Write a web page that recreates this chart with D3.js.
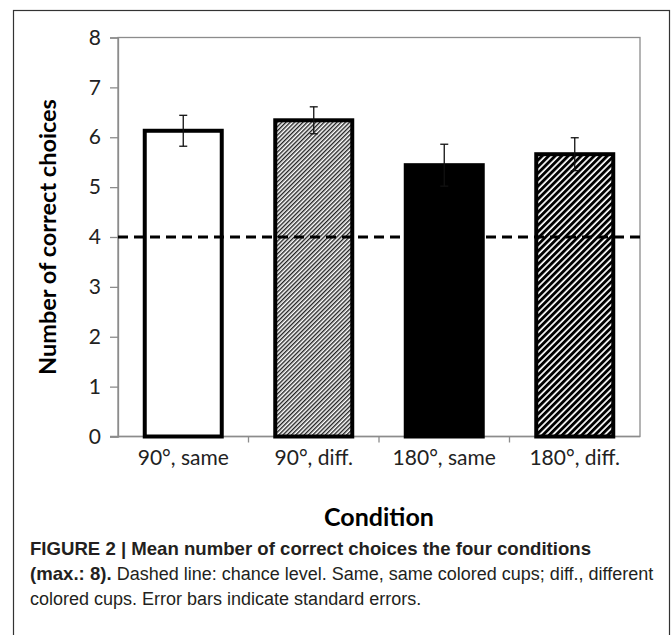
<!DOCTYPE html>
<html>
<head>
<meta charset="utf-8">
<script src="https://cdn.jsdelivr.net/npm/d3@7"></script>
<style>
	body { margin: 0; background: #fff; }
	svg { display: block; }
</style>
</head>
<body>
<script>
// data
const conditions = ["90°, same", "90°, diff.", "180°, same", "180°, diff."];
const means = [6.13, 6.34, 5.44, 5.66];
const stdErrors = [0.31, 0.27, 0.42, 0.33];
const chanceLevel = 4;
const yTicks = [0, 1, 2, 3, 4, 5, 6, 7, 8];
const captionLines = [
	[{ t: "FIGURE 2 | Mean number of correct choices the four conditions", b: true }],
	[{ t: "(max.: 8).", b: true }, { t: " Dashed line: chance level. Same, same colored cups; diff., different", b: false }],
	[{ t: "colored cups. Error bars indicate standard errors.", b: false }]
];

const svgWidth = 672;
const svgHeight = 635;
const plot = { left: 118, right: 640, top: 37.5, bottom: 436.5 };
const fills = ["#fff", "url(#fineHatch)", "#000", "url(#boldHatch)"];

const svg = d3
	.select("body")
	.append("svg")
	.attr("width", svgWidth)
	.attr("height", svgHeight);

// patterns
const defs = svg.append("defs");
const fine = defs
	.append("pattern")
	.attr("id", "fineHatch")
	.attr("patternUnits", "userSpaceOnUse")
	.attr("width", 3)
	.attr("height", 3)
	.attr("patternTransform", "rotate(45)");
fine.append("rect").attr("width", 3).attr("height", 3).attr("fill", "#fff");
fine.append("rect").attr("width", 1.4).attr("height", 3).attr("fill", "#222");

const bold = defs
	.append("pattern")
	.attr("id", "boldHatch")
	.attr("patternUnits", "userSpaceOnUse")
	.attr("width", 4.6)
	.attr("height", 4.6)
	.attr("patternTransform", "rotate(45)");
bold.append("rect").attr("width", 4.6).attr("height", 4.6).attr("fill", "#fff");
bold.append("rect").attr("width", 2.9).attr("height", 4.6).attr("fill", "#000");

// outer frame
svg
	.append("rect")
	.attr("x", 13.5)
	.attr("y", 10.5)
	.attr("width", 656)
	.attr("height", 640)
	.attr("fill", "none")
	.attr("stroke", "#333")
	.attr("stroke-width", 1.2);

//scale
const xScale = d3
	.scaleBand()
	.domain(conditions)
	.range([plot.left, plot.right])
	.paddingInner(0.41)
	.paddingOuter(0.205);

const yScale = d3
	.scaleLinear()
	.domain([0, 8])
	.range([plot.bottom, plot.top]);

//=====
//plot area frame
//=====
svg
	.append("rect")
	.attr("x", plot.left)
	.attr("y", plot.top)
	.attr("width", plot.right - plot.left)
	.attr("height", plot.bottom - plot.top)
	.attr("fill", "none")
	.attr("stroke", "#8c8c8c")
	.attr("stroke-width", 1.3);

//y-axis
const yAxis = svg
	.append("g")
	.attr("transform", `translate(${plot.left}, 0)`)
	.call(d3.axisLeft(yScale).tickValues(yTicks).tickSize(8).tickPadding(9).tickFormat(d3.format("d")));
yAxis.select(".domain").attr("stroke", "#8c8c8c").attr("stroke-width", 1.3);
yAxis.selectAll(".tick line").attr("stroke", "#8c8c8c").attr("stroke-width", 1.3);
yAxis
	.selectAll(".tick text")
	.attr("fill", "#222")
	.style("font-family", "Lato, 'Open Sans', sans-serif")
	.style("font-size", "21px");

//x-axis
const boundaries = conditions.slice(1).map((c) => xScale(c) - (xScale.step() - xScale.bandwidth()) / 2);
const xAxis = svg
	.append("g")
	.attr("transform", `translate(0, ${plot.bottom})`)
	.call(d3.axisBottom(xScale).tickSize(0).tickPadding(14));
xAxis.select(".domain").remove();
xAxis
	.append("line")
	.attr("x1", plot.left - 8)
	.attr("x2", plot.right)
	.attr("stroke", "#8c8c8c")
	.attr("stroke-width", 1.3);
xAxis
	.selectAll(".sep")
	.data(boundaries)
	.enter()
	.append("line")
	.attr("x1", (d) => d)
	.attr("x2", (d) => d)
	.attr("y2", 6)
	.attr("stroke", "#8c8c8c")
	.attr("stroke-width", 1.3);
xAxis
	.selectAll(".tick text")
	.attr("fill", "#222")
	.style("font-family", "Lato, 'Open Sans', sans-serif")
	.style("font-size", "21px");

//=====
//bars
//=====
svg
	.selectAll(".bar")
	.data(conditions)
	.enter()
	.append("rect")
	.attr("class", "bar")
	.attr("x", (d) => xScale(d))
	.attr("y", (d, i) => yScale(means[i]))
	.attr("width", xScale.bandwidth())
	.attr("height", (d, i) => yScale(0) - yScale(means[i]))
	.attr("fill", (d, i) => fills[i])
	.attr("stroke", "#000")
	.attr("stroke-width", 4);

//error bars
const err = svg
	.selectAll(".err")
	.data(conditions)
	.enter()
	.append("g")
	.attr("class", "err")
	.attr("stroke", "#111")
	.attr("stroke-width", 1.3);
err
	.append("line")
	.attr("x1", (d) => xScale(d) + xScale.bandwidth() / 2)
	.attr("x2", (d) => xScale(d) + xScale.bandwidth() / 2)
	.attr("y1", (d, i) => yScale(means[i] + stdErrors[i]))
	.attr("y2", (d, i) => yScale(means[i] - stdErrors[i]));
err
	.selectAll(".cap")
	.data((d, i) => [
		{ c: d, v: means[i] + stdErrors[i] },
		{ c: d, v: means[i] - stdErrors[i] }
	])
	.enter()
	.append("line")
	.attr("x1", (d) => xScale(d.c) + xScale.bandwidth() / 2 - 4)
	.attr("x2", (d) => xScale(d.c) + xScale.bandwidth() / 2 + 4)
	.attr("y1", (d) => yScale(d.v))
	.attr("y2", (d) => yScale(d.v));

//chance line
svg
	.append("line")
	.attr("x1", plot.left)
	.attr("x2", plot.right)
	.attr("y1", yScale(chanceLevel))
	.attr("y2", yScale(chanceLevel))
	.attr("stroke", "#000")
	.attr("stroke-width", 3)
	.attr("stroke-dasharray", "10,6");

//=====
//axis titles
//=====
svg
	.append("text")
	.attr("transform", `translate(47, ${(plot.top + plot.bottom) / 2}) rotate(-90)`)
	.attr("text-anchor", "middle")
	.attr("dominant-baseline", "central")
	.style("font-family", "Lato, 'Open Sans', sans-serif")
	.style("font-weight", "bold")
	.style("font-size", "23.5px")
	.text("Number of correct choices");

svg
	.append("text")
	.attr("x", (plot.left + plot.right) / 2)
	.attr("y", 526)
	.attr("text-anchor", "middle")
	.style("font-family", "Lato, 'Open Sans', sans-serif")
	.style("font-weight", "bold")
	.style("font-size", "25px")
	.text("Condition");

//=====
//caption
//=====
svg
	.selectAll(".caption")
	.data(captionLines)
	.enter()
	.append("text")
	.attr("class", "caption")
	.attr("x", 30)
	.attr("y", (d, i) => 555 + i * 25)
	.style("font-family", "'Liberation Sans', Arial, sans-serif")
	.attr("fill", "#231f20")
	.selectAll("tspan")
	.data((d) => d)
	.enter()
	.append("tspan")
	.style("font-weight", (d) => (d.b ? "bold" : "normal"))
	.style("font-size", (d) => (d.b ? "18.6px" : "18px"))
	.text((d) => d.t);
</script>
</body>
</html>
